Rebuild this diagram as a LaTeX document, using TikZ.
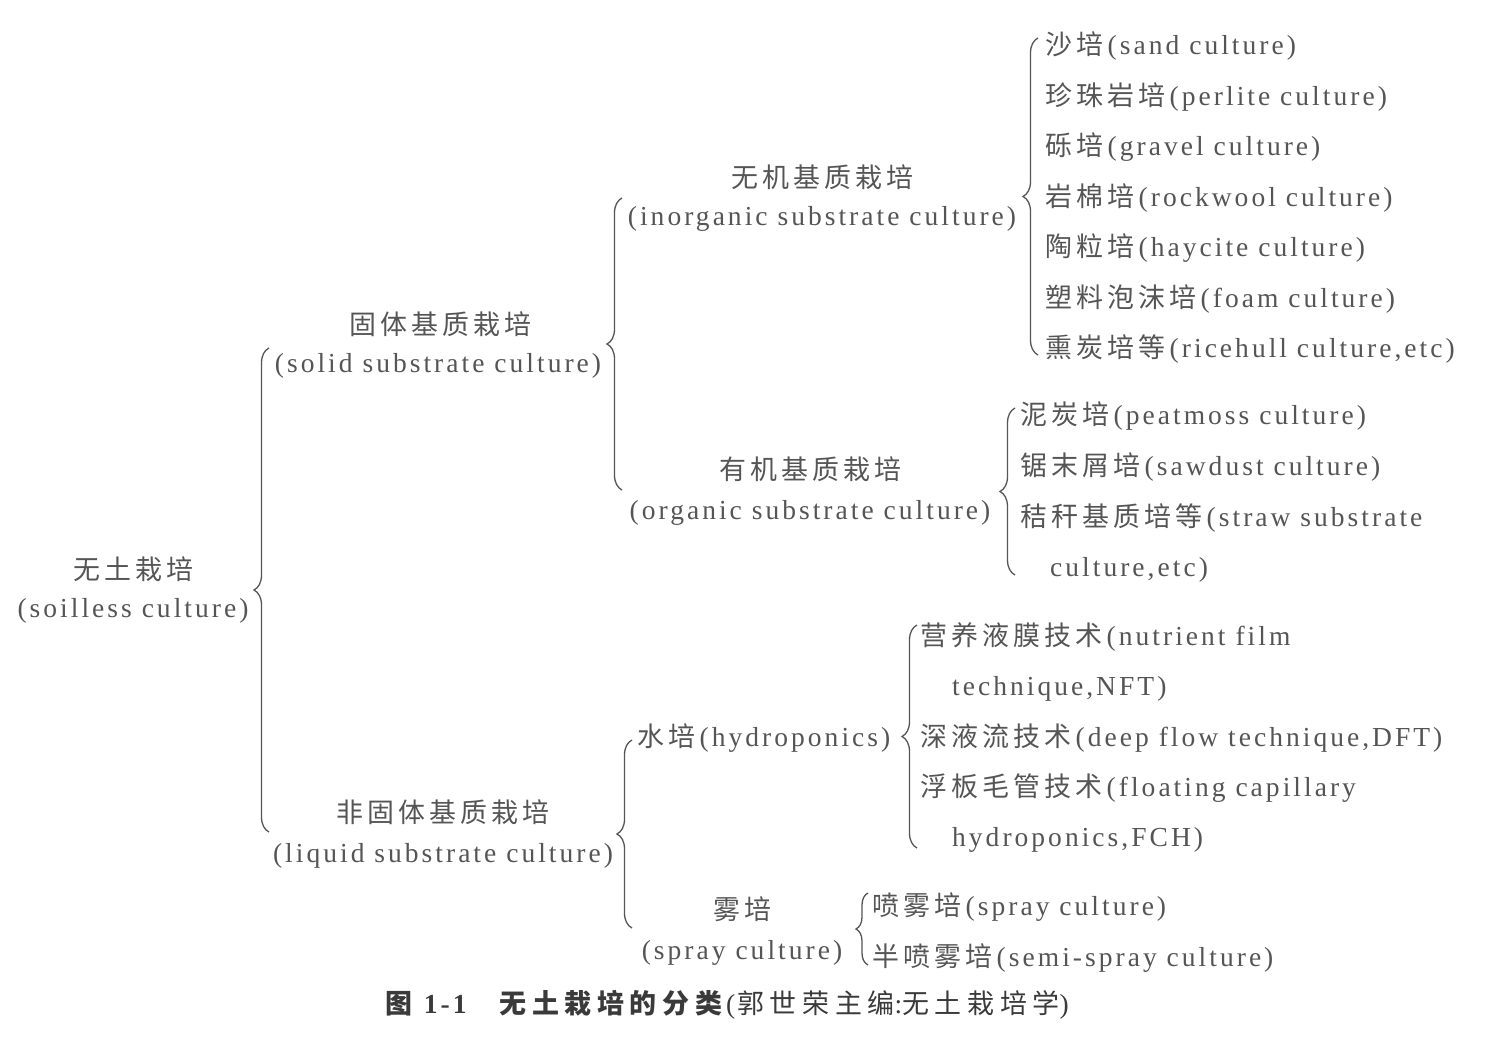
\documentclass[tikz,border=0pt]{standalone}
\usepackage{fontspec}
\setmainfont{Liberation Serif}[LetterSpace=11]
\newfontfamily\cjk{Noto Sans CJK SC}[Scale=0.98,LetterSpace=15]
\newfontfamily\cjkcap{Noto Sans CJK SC}[Scale=0.98,LetterSpace=21]
\usetikzlibrary{decorations.pathreplacing}
\definecolor{ink}{HTML}{555555}
\definecolor{capink}{HTML}{3a3a3a}
\newcommand\zh[1]{{\cjk #1}}
\tikzset{
  lbl/.style={inner sep=0pt, text height=23pt, text depth=4pt, text=ink, font=\fontsize{27.5}{30}\selectfont},
  lft/.style={lbl, anchor=west},
  brc/.style={draw=ink, line width=1.3pt, decorate, decoration={brace, amplitude=15pt}},
  brcs/.style={brc, decoration={brace, amplitude=12pt}},
}
\begin{document}
\begin{tikzpicture}[x=1pt,y=-1pt]
\useasboundingbox (0,0) rectangle (1497,1043);
\fill[white] (0,0) rectangle (1497,1043);

% level 1
\node[lbl] (root) at (133,570) {\zh{无土栽培}};
\node[lbl] (rootE) at (133,608) {(soilless culture)};

% level 2
\node[lbl] (solid) at (440,325) {\zh{固体基质栽培}};
\node[lbl] (solidE) at (438,363) {(solid substrate culture)};
\node[lbl] (liquid) at (443,813) {\zh{非固体基质栽培}};
\node[lbl] (liquidE) at (443,853) {(liquid substrate culture)};

% level 3
\node[lbl] (inorg) at (822,178) {\zh{无机基质栽培}};
\node[lbl] (inorgE) at (822,216) {(inorganic substrate culture)};
\node[lbl] (org) at (810,470) {\zh{有机基质栽培}};
\node[lbl] (orgE) at (810,510) {(organic substrate culture)};
\node[lft] (hydro) at (637,737) {\zh{水培}\,(hydroponics)};
\node[lbl] (spray) at (742,910) {\zh{雾培}};
\node[lbl] (sprayE) at (742,950) {(spray culture)};

% inorganic items
\node[lft] (i1) at (1045,45) {\zh{沙培}\,(sand culture)};
\node[lft] (i2) at (1045,96) {\zh{珍珠岩培}\,(perlite culture)};
\node[lft] (i3) at (1045,146) {\zh{砾培}\,(gravel culture)};
\node[lft] (i4) at (1045,197) {\zh{岩棉培}\,(rockwool culture)};
\node[lft] (i5) at (1045,247) {\zh{陶粒培}\,(haycite culture)};
\node[lft] (i6) at (1045,298) {\zh{塑料泡沫培}\,(foam culture)};
\node[lft] (i7) at (1045,348) {\zh{熏炭培等}\,(ricehull culture,etc)};

% organic items
\node[lft] (o1) at (1020,415) {\zh{泥炭培}\,(peatmoss culture)};
\node[lft] (o2) at (1020,466) {\zh{锯末屑培}\,(sawdust culture)};
\node[lft] (o3) at (1020,517) {\zh{秸秆基质培等}\,(straw substrate};
\node[lft] (o3b) at (1050,567) {culture,etc)};

% hydroponics items
\node[lft] (h1) at (920,636) {\zh{营养液膜技术}\,(nutrient film};
\node[lft] (h1b) at (952,686) {technique,NFT)};
\node[lft] (h2) at (920,737) {\zh{深液流技术}\,(deep flow technique,DFT)};
\node[lft] (h3) at (920,787) {\zh{浮板毛管技术}\,(floating capillary};
\node[lft] (h3b) at (952,837) {hydroponics,FCH)};

% spray items
\node[lft] (s1) at (872,906) {\zh{喷雾培}\,(spray culture)};
\node[lft] (s2) at (872,957) {\zh{半喷雾培}\,(semi-spray culture)};

% braces
\coordinate (b1t) at (269,348);  \coordinate (b1b) at (269,832);
\coordinate (b2t) at (622,198);  \coordinate (b2b) at (622,490);
\coordinate (b3t) at (1038,38);  \coordinate (b3b) at (1038,355);
\coordinate (b4t) at (1015,408); \coordinate (b4b) at (1015,575);
\coordinate (b5t) at (632,740);  \coordinate (b5b) at (632,928);
\coordinate (b6t) at (917,625);  \coordinate (b6b) at (917,848);
\coordinate (b7t) at (868,893);  \coordinate (b7b) at (868,965);
\draw[brc] (b1b) -- (b1t);
\draw[brc] (b2b) -- (b2t);
\draw[brc] (b3b) -- (b3t);
\draw[brc] (b4b) -- (b4t);
\draw[brc] (b5b) -- (b5t);
\draw[brc] (b6b) -- (b6t);
\draw[brcs] (b7b) -- (b7t);

% caption
\node[lft, text=capink] (cap) at (385,1004)
  {{\cjkcap\bfseries 图}\hspace{6pt}\textbf{1-1}\hspace{30pt}{\cjkcap\bfseries 无土栽培的分类}\hspace{4pt}(\hspace{2pt}{\cjkcap 郭世荣主编}:{\cjkcap 无土栽培学})};
\end{tikzpicture}
\end{document}
